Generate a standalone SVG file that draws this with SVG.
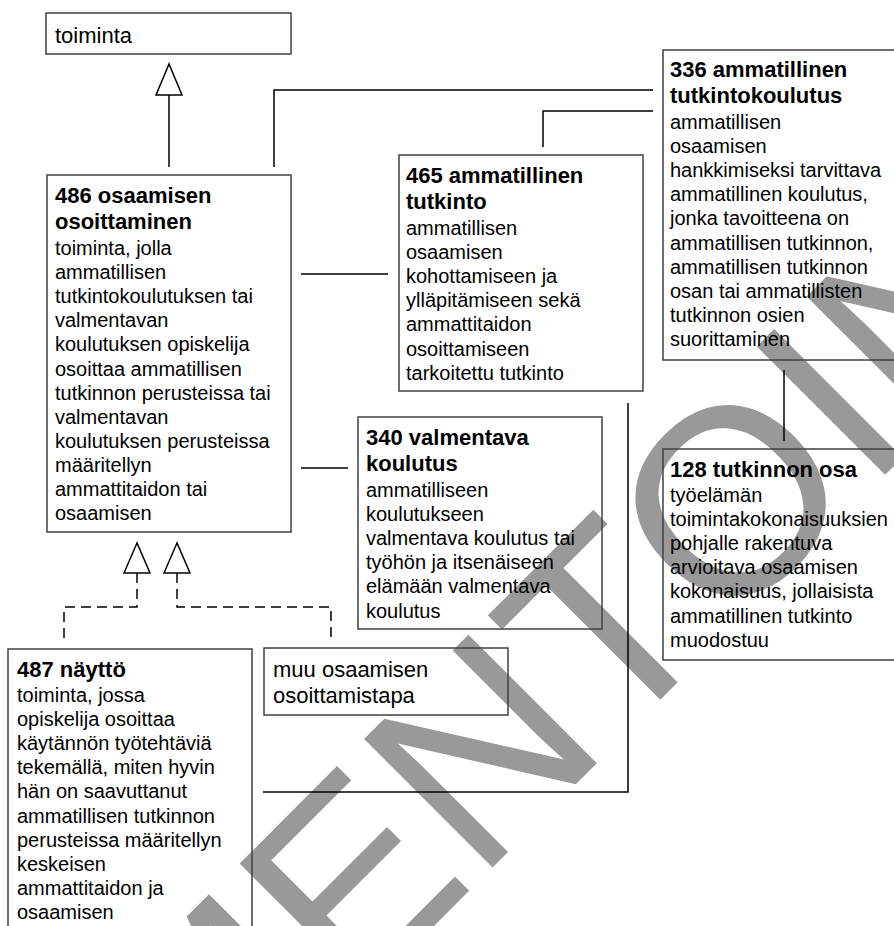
<svg xmlns="http://www.w3.org/2000/svg" width="894" height="926" viewBox="0 0 894 926">
<style>
.box{fill:none;stroke:#404040;stroke-width:1.5}
.ln{fill:none;stroke:#000;stroke-width:1.5}
.dash{fill:none;stroke:#000;stroke-width:1.5;stroke-dasharray:10 6}
.tri{fill:#fff;stroke:#000;stroke-width:1.5}
.t{font-family:"Liberation Sans",Arial,sans-serif;font-size:20px;fill:#000}
.b{font-family:"Liberation Sans",Arial,sans-serif;font-size:22px;font-weight:bold;fill:#000}
.l{font-family:"Liberation Sans",Arial,sans-serif;font-size:22px;fill:#000}
.wm{font-family:"Liberation Sans",Arial,sans-serif;font-size:264px;fill:#999}
</style>
<rect width="894" height="926" fill="#fff"/>
<g id="watermark">
<text class="wm" transform="translate(-228,1588) rotate(-45)" x="0" y="0">KOMMENTOINTIVERSIO</text>
</g>
<g id="connectors">
<line class="ln" x1="169" y1="167" x2="169" y2="95"/>
<polygon class="tri" points="169,64 156,95 182,95"/>
<polyline class="ln" points="274,167 274,90 653,90"/>
<polyline class="ln" points="543,147 543,111 653,111"/>
<line class="ln" x1="301" y1="274" x2="388" y2="274"/>
<line class="ln" x1="301" y1="468" x2="348" y2="468"/>
<polyline class="ln" points="628,403 628,792 263,792"/>
<line class="ln" x1="784" y1="370" x2="784" y2="441"/>
<polyline class="dash" points="137,573 137,607 64,607 64,640"/>
<polyline class="dash" points="177,573 177,607 331,607 331,640"/>
<polygon class="tri" points="137,543 124,573 150,573"/>
<polygon class="tri" points="177,543 164,573 190,573"/>
</g>
<g id="toiminta">
<rect class="box" x="46" y="13" width="245" height="41"/>
<text class="l" x="55" y="43">toiminta</text>
</g>
<g id="n486">
<rect class="box" x="47" y="175" width="244" height="357"/>
<text class="b" x="55" y="203">486 osaamisen<tspan x="55" dy="25.5">osoittaminen</tspan></text>
<text class="t" x="55" y="255">toiminta, jolla<tspan x="55" dy="24.1">ammatillisen</tspan><tspan x="55" dy="24.1">tutkintokoulutuksen tai</tspan><tspan x="55" dy="24.1">valmentavan</tspan><tspan x="55" dy="24.1">koulutuksen opiskelija</tspan><tspan x="55" dy="24.1">osoittaa ammatillisen</tspan><tspan x="55" dy="24.1">tutkinnon perusteissa tai</tspan><tspan x="55" dy="24.1">valmentavan</tspan><tspan x="55" dy="24.1">koulutuksen perusteissa</tspan><tspan x="55" dy="24.1">määritellyn</tspan><tspan x="55" dy="24.1">ammattitaidon tai</tspan><tspan x="55" dy="24.1">osaamisen</tspan></text>
</g>
<g id="n465">
<rect class="box" x="399" y="155" width="244" height="236"/>
<text class="b" x="406" y="183">465 ammatillinen<tspan x="406" dy="25.5">tutkinto</tspan></text>
<text class="t" x="406" y="235">ammatillisen<tspan x="406" dy="24.1">osaamisen</tspan><tspan x="406" dy="24.1">kohottamiseen ja</tspan><tspan x="406" dy="24.1">ylläpitämiseen sekä</tspan><tspan x="406" dy="24.1">ammattitaidon</tspan><tspan x="406" dy="24.1">osoittamiseen</tspan><tspan x="406" dy="24.1">tarkoitettu tutkinto</tspan></text>
</g>
<g id="n336">
<rect class="box" x="663" y="50" width="244" height="310"/>
<text class="b" x="670" y="77">336 ammatillinen<tspan x="670" dy="25.5">tutkintokoulutus</tspan></text>
<text class="t" x="670" y="129">ammatillisen<tspan x="670" dy="24.1">osaamisen</tspan><tspan x="670" dy="24.1">hankkimiseksi tarvittava</tspan><tspan x="670" dy="24.1">ammatillinen koulutus,</tspan><tspan x="670" dy="24.1">jonka tavoitteena on</tspan><tspan x="670" dy="24.1">ammatillisen tutkinnon,</tspan><tspan x="670" dy="24.1">ammatillisen tutkinnon</tspan><tspan x="670" dy="24.1">osan tai ammatillisten</tspan><tspan x="670" dy="24.1">tutkinnon osien</tspan><tspan x="670" dy="24.1">suorittaminen</tspan></text>
</g>
<g id="n128">
<rect class="box" x="663" y="449" width="244" height="211"/>
<text class="b" x="670" y="477">128 tutkinnon osa</text>
<text class="t" x="670" y="502">työelämän<tspan x="670" dy="24.1">toimintakokonaisuuksien</tspan><tspan x="670" dy="24.1">pohjalle rakentuva</tspan><tspan x="670" dy="24.1">arvioitava osaamisen</tspan><tspan x="670" dy="24.1">kokonaisuus, jollaisista</tspan><tspan x="670" dy="24.1">ammatillinen tutkinto</tspan><tspan x="670" dy="24.1">muodostuu</tspan></text>
</g>
<g id="n340">
<rect class="box" x="358" y="417" width="244" height="212"/>
<text class="b" x="366" y="445">340 valmentava<tspan x="366" dy="25.5">koulutus</tspan></text>
<text class="t" x="366" y="497">ammatilliseen<tspan x="366" dy="24.1">koulutukseen</tspan><tspan x="366" dy="24.1">valmentava koulutus tai</tspan><tspan x="366" dy="24.1">työhön ja itsenäiseen</tspan><tspan x="366" dy="24.1">elämään valmentava</tspan><tspan x="366" dy="24.1">koulutus</tspan></text>
</g>
<g id="muu">
<rect class="box" x="264" y="648" width="244" height="67"/>
<text class="l" x="273" y="677">muu osaamisen<tspan x="273" dy="26">osoittamistapa</tspan></text>
</g>
<g id="n487">
<rect class="box" x="8" y="649" width="244" height="300"/>
<text class="b" x="17" y="677">487 näyttö</text>
<text class="t" x="17" y="702">toiminta, jossa<tspan x="17" dy="24.1">opiskelija osoittaa</tspan><tspan x="17" dy="24.1">käytännön työtehtäviä</tspan><tspan x="17" dy="24.1">tekemällä, miten hyvin</tspan><tspan x="17" dy="24.1">hän on saavuttanut</tspan><tspan x="17" dy="24.1">ammatillisen tutkinnon</tspan><tspan x="17" dy="24.1">perusteissa määritellyn</tspan><tspan x="17" dy="24.1">keskeisen</tspan><tspan x="17" dy="24.1">ammattitaidon ja</tspan><tspan x="17" dy="24.1">osaamisen</tspan></text>
</g>
</svg>
